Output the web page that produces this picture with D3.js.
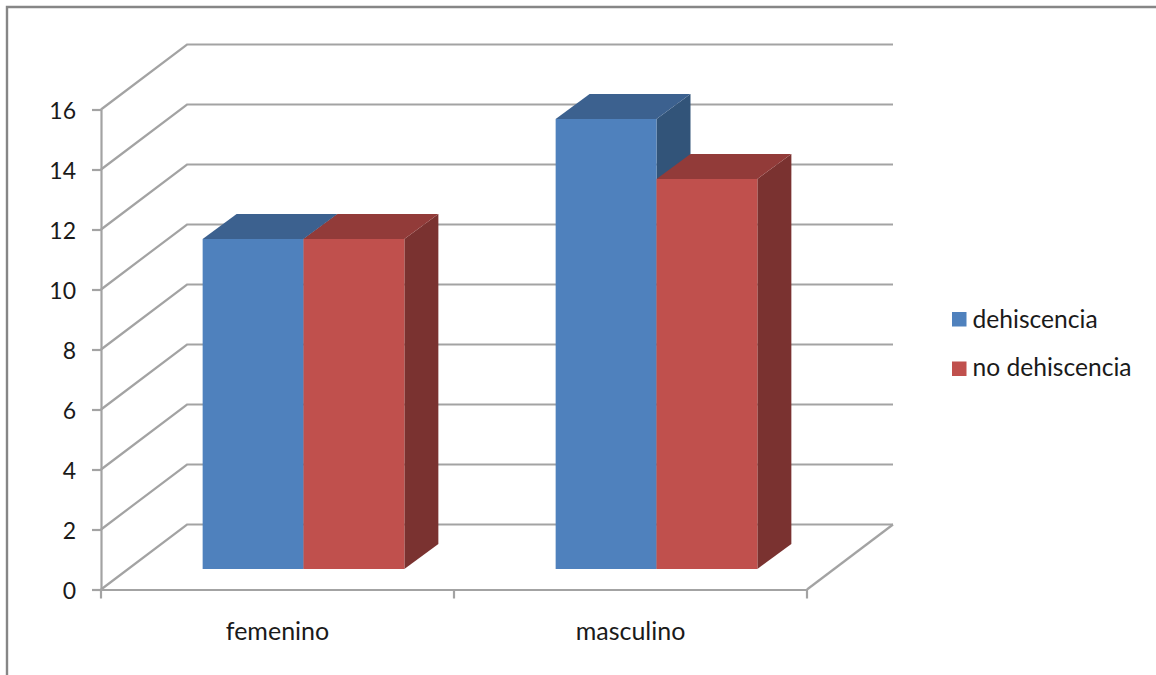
<!DOCTYPE html>
<html lang="es">
<head>
<meta charset="utf-8">
<script src="https://cdn.jsdelivr.net/npm/d3@7/dist/d3.min.js"></script>
<style>
  html, body { margin: 0; padding: 0; background: #fff; }
  svg { display: block; }
  text { font-family: Lato, "Open Sans", sans-serif; fill: #1a1a1a; }
</style>
</head>
<body>
<svg id="chart" width="1156" height="675"></svg>
<script>
// Chart values
const categories = ["femenino", "masculino"];
const seriesNames = ["dehiscencia", "no dehiscencia"];
const dehiscencia = [11, 15];
const noDehiscencia = [11, 13];
const yTicks = [0, 2, 4, 6, 8, 10, 12, 14, 16];

const seriesValues = [dehiscencia, noDehiscencia];
const faceColors = [
  { front: "#4f81bd", top: "#3c618f", side: "#325479" },
  { front: "#c0504d", top: "#923b39", side: "#7a3230" }
];
const gridColor = "#a3a3a3";
const frameColor = "#868686";

const svg = d3.select("#chart");

// Frame: only the top and left edges fall inside the canvas
svg.append("path")
  .attr("d", d3.line()([[7, 675], [7, 7], [1156, 7]]))
  .attr("fill", "none").attr("stroke", frameColor).attr("stroke-width", 2.4);

// Oblique projection of the plot box
const frontLeft = 101, frontRight = 807;
const depthX = 86, depthY = -65;
const y = d3.scaleLinear().domain([0, 16]).range([589.5, 109.5]);
const x = d3.scaleBand().domain(categories).range([frontLeft, frontRight]);

// Bars sit part of the way into the floor and have their own, shallower depth
const barInsetX = 26, barInsetY = -20.5;
const barDepthX = 34, barDepthY = -25;
const gapWidth = 1.5;
const barWidth = x.bandwidth() / (seriesNames.length + gapWidth);
const series = d3.scaleBand().domain(d3.range(seriesNames.length))
  .range([barWidth * gapWidth / 2, barWidth * gapWidth / 2 + barWidth * seriesNames.length]);

const line = d3.line();

// Gridlines on the side wall and back wall
const grid = svg.append("g").attr("fill", "none").attr("stroke", gridColor).attr("stroke-width", 2.2);
grid.selectAll("path").data(yTicks).join("path")
  .attr("d", t => line([
    [frontLeft, y(t)],
    [frontLeft + depthX, y(t) + depthY],
    [frontRight + depthX, y(t) + depthY]
  ]));
// Open edge of the floor
grid.append("path").attr("d", line([
  [frontRight + depthX, y(0) + depthY],
  [frontRight, y(0)]
]));

// Value axis
const yAxis = svg.append("g")
  .attr("transform", `translate(${frontLeft},0)`)
  .call(d3.axisLeft(y).tickValues(yTicks).tickSize(9).tickPadding(16).tickSizeOuter(0));
yAxis.select(".domain").attr("stroke", gridColor).attr("stroke-width", 2.2);
yAxis.selectAll(".tick line").attr("stroke", gridColor).attr("stroke-width", 2.2);
yAxis.selectAll("text").attr("font-size", 23).attr("fill", "#1a1a1a").attr("dy", "0.4em");

// Category axis: labels centred on each band, ticks on the band edges
const xAxis = svg.append("g")
  .attr("transform", `translate(0,${y(0)})`)
  .call(d3.axisBottom(x).tickSize(0).tickPadding(33));
xAxis.select(".domain").attr("stroke", gridColor).attr("stroke-width", 2.2);
xAxis.selectAll("text").attr("font-size", 25).attr("fill", "#1a1a1a");
svg.append("g").attr("stroke", gridColor).attr("stroke-width", 2.2)
  .selectAll("line")
  .data(d3.range(categories.length + 1))
  .join("line")
  .attr("x1", i => frontLeft + i * x.step())
  .attr("x2", i => frontLeft + i * x.step())
  .attr("y1", y(0)).attr("y2", y(0) + 9);

// Bars: each one drawn as front, top and right faces
const flat = categories.flatMap((c, ci) =>
  seriesNames.map((s, si) => ({ c, si, value: seriesValues[si][ci] })));

const bars = svg.append("g").selectAll("g").data(flat).join("g");

const corners = d => {
  const x0 = x(d.c) + series(d.si) + barInsetX;
  const x1 = x0 + barWidth;
  const base = y(0) + barInsetY;
  const top = y(d.value) + barInsetY;
  return { x0, x1, base, top, dx: barDepthX, dy: barDepthY };
};

bars.append("path")
  .attr("fill", d => faceColors[d.si].side)
  .attr("d", d => {
    const k = corners(d);
    return line([[k.x1, k.top], [k.x1 + k.dx, k.top + k.dy], [k.x1 + k.dx, k.base + k.dy], [k.x1, k.base]]) + "Z";
  });
bars.append("path")
  .attr("fill", d => faceColors[d.si].top)
  .attr("d", d => {
    const k = corners(d);
    return line([[k.x0, k.top], [k.x0 + k.dx, k.top + k.dy], [k.x1 + k.dx, k.top + k.dy], [k.x1, k.top]]) + "Z";
  });
bars.append("rect")
  .attr("fill", d => faceColors[d.si].front)
  .attr("x", d => corners(d).x0)
  .attr("y", d => corners(d).top)
  .attr("width", barWidth)
  .attr("height", d => corners(d).base - corners(d).top);

// Legend
const legend = svg.append("g");
legend.selectAll("rect").data(seriesNames).join("rect")
  .attr("x", 952).attr("y", (d, i) => 312 + i * 49.5)
  .attr("width", 14.5).attr("height", 14.5)
  .attr("fill", (d, i) => faceColors[i].front);
legend.selectAll("text").data(seriesNames).join("text")
  .attr("x", 972.5).attr("y", (d, i) => 328 + i * 47.5)
  .attr("font-size", 24.6).text(d => d);
</script>
</body>
</html>
